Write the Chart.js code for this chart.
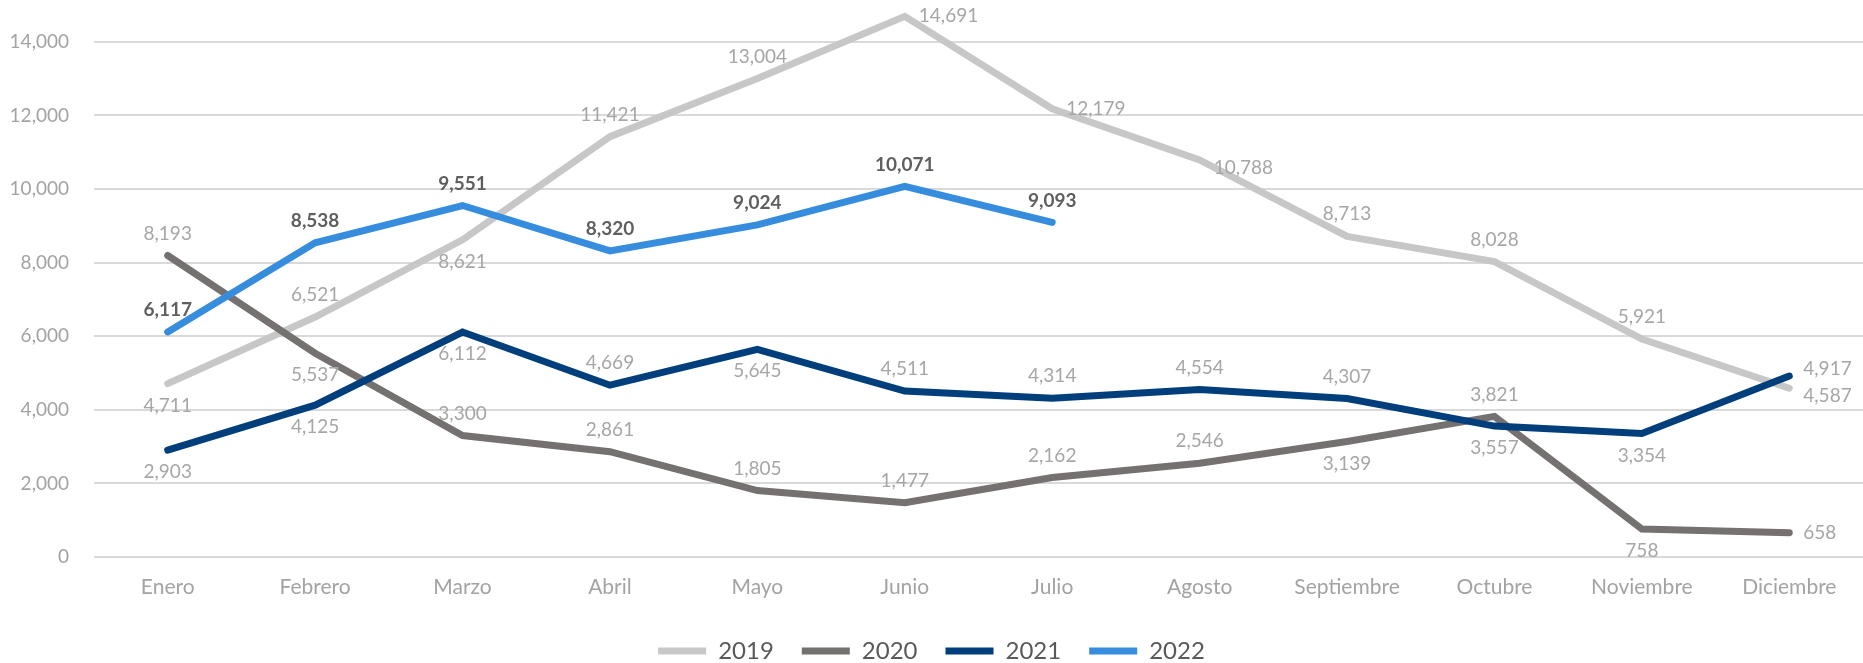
<!DOCTYPE html>
<html>
<head>
<meta charset="utf-8">
<script src="https://cdn.jsdelivr.net/npm/chart.js@4.4.0/dist/chart.umd.min.js"></script>
<style>
    html, body { margin: 0; padding: 0; background: #ffffff; }
    #wrap { width: 1863px; height: 663px; position: relative; }
</style>
</head>
<body>
<div id="wrap"><canvas id="lineChart"></canvas></div>
<script>
// Data
var months = ["Enero", "Febrero", "Marzo", "Abril", "Mayo", "Junio", "Julio", "Agosto", "Septiembre", "Octubre", "Noviembre", "Diciembre"];
var years = ["2019", "2020", "2021", "2022"];
var values2019 = [4711, 6521, 8621, 11421, 13004, 14691, 12179, 10788, 8713, 8028, 5921, 4587];
var values2020 = [8193, 5537, 3300, 2861, 1805, 1477, 2162, 2546, 3139, 3821, 758, 658];
var values2021 = [2903, 4125, 6112, 4669, 5645, 4511, 4314, 4554, 4307, 3557, 3354, 4917];
var values2022 = [6117, 8538, 9551, 8320, 9024, 10071, 9093];
var yTicks = [0, 2000, 4000, 6000, 8000, 10000, 12000, 14000];
var yMax = 15000;

// where each value label sits: a = above, b = below, r = right (ru / rd nudged)
var labelPlacement = [
    ["b", "a", "b", "a", "a", "r", "r", "rd", "a", "a", "a", "rd"],
    ["a", "b", "a", "a", "a", "a", "a", "a", "b", "a", "b", "r"],
    ["b", "b", "b", "a", "b", "a", "a", "a", "a", "b", "b", "ru"],
    ["a", "a", "a", "a", "a", "a", "a"]
];

var FONT = "Lato, 'Open Sans', sans-serif";

// draws the numbers next to each point
var valueLabels = {
    id: "valueLabels",
    afterDatasetsDraw: function (chart) {
        var ctx = chart.ctx;
        chart.data.datasets.forEach(function (ds, i) {
            var meta = chart.getDatasetMeta(i);
            ctx.save();
            ctx.font = (ds.labelBold ? "bold " : "") + "19px " + FONT;
            ctx.fillStyle = ds.labelColor;
            ctx.textBaseline = "middle";
            meta.data.forEach(function (pt, j) {
                var v = ds.data[j];
                if (v === null || v === undefined) return;
                var txt = v.toLocaleString("en-US");
                var p = labelPlacement[i][j];
                var x = pt.x, y = pt.y;
                if (p.charAt(0) === "r") {
                    ctx.textAlign = "left";
                    x += 14;
                    if (p === "ru") y -= 7;
                    if (p === "rd") y += 8;
                } else {
                    ctx.textAlign = "center";
                    y += (p === "a") ? -22 : 22;
                }
                ctx.fillText(txt, x, y);
            });
            ctx.restore();
        });
    }
};

function makeSet(label, data, color, order, labelColor, bold) {
    return {
        label: label,
        data: data,
        borderColor: color,
        backgroundColor: color,
        borderWidth: 7,
        borderCapStyle: "round",
        borderJoinStyle: "miter",
        pointRadius: 0,
        pointHoverRadius: 0,
        tension: 0,
        fill: false,
        order: order,
        labelColor: labelColor,
        labelBold: bold
    };
}

var ctx = document.getElementById("lineChart").getContext("2d");
new Chart(ctx, {
    type: "line",
    data: {
        labels: months,
        datasets: [
            makeSet(years[0], values2019, "#c7c7c7", 3, "#a6a6a6", false),
            makeSet(years[1], values2020, "#767171", 2, "#a6a6a6", false),
            makeSet(years[2], values2021, "#003f7c", 1, "#a6a6a6", false),
            makeSet(years[3], values2022, "#378ddd", 0, "#5f5f5f", true)
        ]
    },
    plugins: [valueLabels],
    options: {
        responsive: true,
        maintainAspectRatio: false,
        animation: false,
        layout: {
            padding: { top: 5, left: 0, right: 0, bottom: -10 }
        },
        plugins: {
            tooltip: { enabled: false },
            legend: {
                position: "bottom",
                labels: {
                    usePointStyle: true,
                    pointStyle: "line",
                    pointStyleWidth: 48,
                    padding: 28,
                    color: "#595959",
                    font: { family: FONT, size: 24 },
                    sort: function (a, b) { return a.datasetIndex - b.datasetIndex; }
                }
            }
        },
        scales: {
            x: {
                offset: true,
                grid: { display: false, drawTicks: false },
                border: { display: false },
                ticks: {
                    color: "#a3a3a3",
                    padding: 18,
                    maxRotation: 0,
                    autoSkip: false,
                    font: { family: FONT, size: 21 }
                },
                afterFit: function (scale) { scale.height = 54; }
            },
            y: {
                min: 0,
                max: yMax,
                grid: { drawTicks: false, lineWidth: 2, color: "#d9d9d9" },
                border: { display: false },
                ticks: {
                    autoSkip: false,
                    padding: 25,
                    color: "#a3a3a3",
                    font: { family: FONT, size: 19 },
                    callback: function (v) { return v.toLocaleString("en-US"); }
                },
                afterBuildTicks: function (scale) {
                    scale.ticks = yTicks.map(function (v) { return { value: v }; });
                },
                afterFit: function (scale) {
                    scale.width = 94;
                    scale.paddingTop = 0;
                    scale.paddingBottom = 0;
                }
            }
        }
    }
});
</script>
</body>
</html>
